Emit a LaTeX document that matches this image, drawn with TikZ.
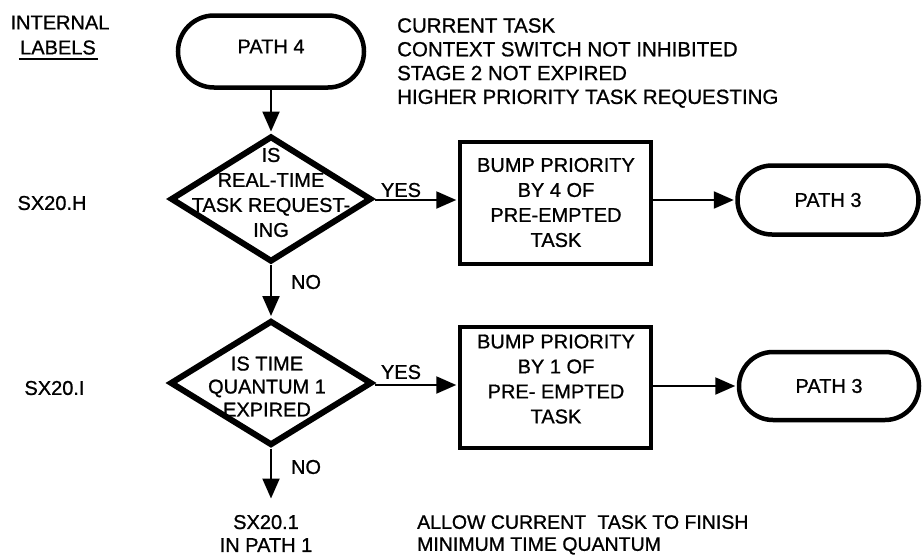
\documentclass[tikz,border=0pt]{standalone}
\usepackage{fontspec}
\setmainfont{Liberation Sans}[FakeBold=0.9]
\usetikzlibrary{shapes.geometric,shapes.misc,arrows.meta}

\begin{document}
\begin{tikzpicture}[x=1pt,y=-1pt,
  txt/.style={font=\fontsize{20}{25}\selectfont, align=center, inner sep=0pt},
  txtl/.style={txt, align=left},
  terminal/.style={rounded rectangle, draw, line width=4.5pt, txt},
  procbox/.style={rectangle, draw, line width=4.5pt, inner sep=0pt},
  decision/.style={diamond, draw, line width=6pt, line join=miter, inner sep=0pt,
                   minimum width=201pt, minimum height=126pt},
  flow/.style={line width=2.2pt, -{Triangle[length=20pt,width=17pt]}, shorten >=1.5pt},
]
\useasboundingbox (0,0) rectangle (923,557);

% column of internal labels
\node[txt] (hdrA) at (60,22.5) {INTERNAL};
\node[txt] (hdrB) at (58,47.5) {LABELS};
\draw[line width=2pt] ([xshift=-1pt,yshift=-4.5pt]hdrB.south west) -- ([xshift=2pt,yshift=-4.5pt]hdrB.south east);
\node[txt] (lblH) at (52,203) {SX20.H};
\node[txt] (lblI) at (54.5,388) {SX20.I};

% entry condition
\node[txtl, anchor=north west, font=\fontsize{20.5}{23.8}\selectfont] (cond) at (397,18)
  {CURRENT TASK\\CONTEXT SWITCH NOT INHIBITED\\STAGE 2 NOT EXPIRED\\HIGHER PRIORITY TASK REQUESTING};

% start terminal
\node[terminal, minimum width=186pt, minimum height=72pt, text depth=10pt] (p4) at (271,51.5) {PATH 4};

% first decision and its branch
\node[decision] (d1) at (271,199) {};
\node[txt] (d1t) at (271,192.5) {IS\\REAL-TIME\\TASK REQUEST-\\ING};
\node[procbox, minimum width=191pt, minimum height=122pt] (b1) at (555.5,203) {};
\node[txt] (b1t) at (556,202.5) {BUMP PRIORITY\\BY 4 OF\\PRE-EMPTED\\TASK};
\node[terminal, minimum width=181pt, minimum height=69pt] (t1) at (828,200) {PATH 3};

% second decision and its branch
\node[decision, minimum width=202pt, minimum height=125pt] (d2) at (271,383) {};
\node[txt, font=\fontsize{20}{23}\selectfont] (d2t) at (267,386.5) {IS TIME\\QUANTUM 1\\EXPIRED};
\node[procbox, minimum width=191pt, minimum height=121pt] (b2) at (555.5,387.5) {};
\node[txt] (b2t) at (556,379) {BUMP PRIORITY\\BY 1 OF\\PRE- EMPTED\\TASK};
\node[terminal, minimum width=180pt, minimum height=68pt] (t2) at (829,386) {PATH 3};

% exit
\coordinate (exitpt) at (271,500);
\node[txt, font=\fontsize{20}{23}\selectfont] (exitlbl) at (266,533.5) {SX20.1\\IN PATH 1};
\node[txtl, anchor=north west, font=\fontsize{19.5}{22}\selectfont] (note) at (417,515)
  {ALLOW CURRENT\hspace{0.3em} TASK TO FINISH\\MINIMUM TIME QUANTUM};

% connectors
\draw[flow] (p4.south) -- (d1.north);
\draw[flow] (d1.east |- 0,200) -- (b1.west |- 0,200);
\draw[flow] (b1.east |- t1.west) -- (t1.west);
\draw[flow] (d1.south) -- (d2.north);
\draw[flow] (d2.east |- 0,385) -- (b2.west |- 0,385);
\draw[flow] (b2.east |- t2.west) -- (t2.west);
\draw[flow] (d2.south) -- (exitpt);

% branch labels
\node[txt] (yes1) at (401,190) {YES};
\node[txt] (no1) at (306,282) {NO};
\node[txt] (yes2) at (401,372) {YES};
\node[txt] (no2) at (306,467) {NO};
\end{tikzpicture}
\end{document}
